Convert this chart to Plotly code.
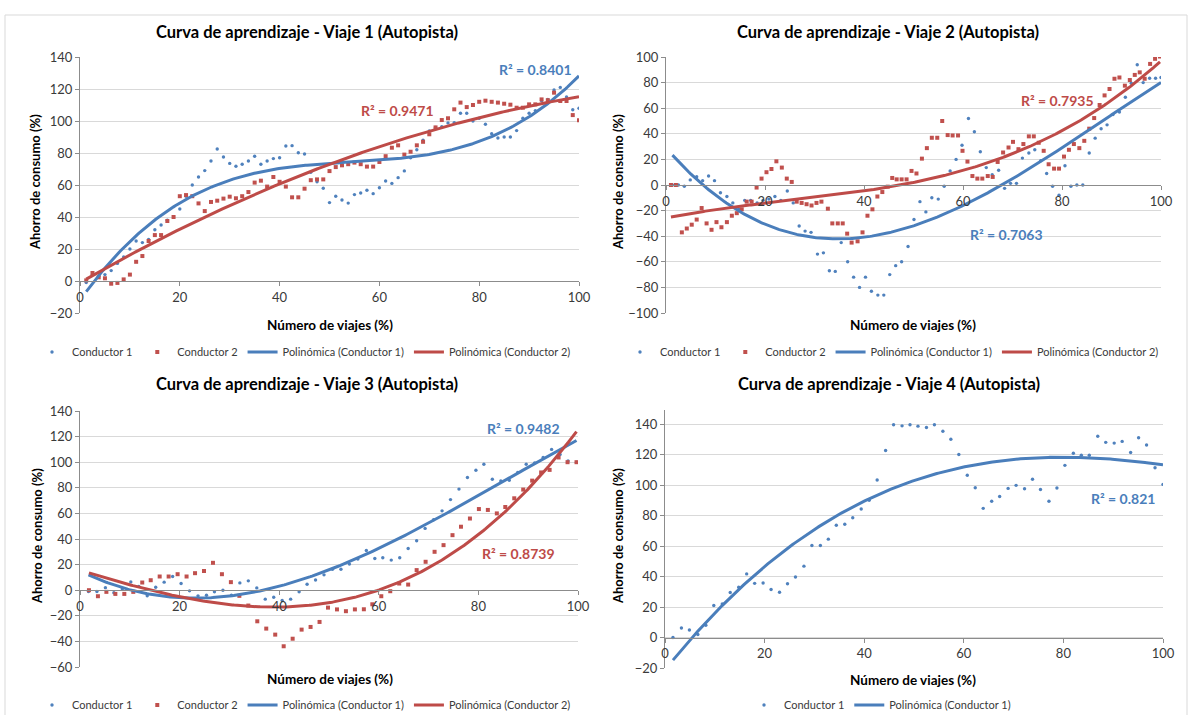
import numpy as np
import plotly.graph_objects as go

# ---------------- data: Viaje 1 ----------------
v1_c1_x = [1.25, 2.5, 3.75, 5.0, 6.25, 7.5, 8.75, 10.0, 11.25, 12.5, 13.75, 15.0, 16.25, 17.5, 18.75, 20.0,
           21.25, 22.5, 23.75, 25.0, 26.25, 27.5, 28.75, 30.0, 31.25, 32.5, 33.75, 35.0, 36.25, 37.5, 38.75,
           40.0, 41.25, 42.5, 43.75, 45.0, 46.25, 47.5, 48.75, 50.0, 51.25, 52.5, 53.75, 55.0, 56.25, 57.5,
           58.75, 60.0, 61.25, 62.5, 63.75, 65.0, 66.25, 67.5, 68.75, 70.0, 71.25, 72.5, 73.75, 75.0, 76.25,
           77.5, 78.75, 80.0, 81.25, 82.5, 83.75, 85.0, 86.25, 87.5, 88.75, 90.0, 91.25, 92.5, 93.75, 95.0,
           96.25, 97.5, 98.75, 100.0]
v1_c1_y = [-1, 4, 3, 4, 6.5, 11, 15, 20, 25, 24, 26, 32, 35, 38, 40, 45,
           53, 60, 65, 69, 75, 82.5, 77.5, 73.5, 71.7, 73, 75, 78, 73, 75, 76.5,
           77, 84.4, 84.6, 80.2, 79.4, 68, 62, 58, 49, 53, 50.6, 48.7, 54, 55, 56.7,
           54.6, 58.3, 62.5, 61, 64.6, 68.8, 77, 82, 88, 93.8, 96, 96.5, 98.8, 99, 104.8,
           104.8, 100, 101.7, 98, 92, 89.4, 90, 90, 94, 101.7, 104.8, 106.5, 112.7, 113.5, 119.4,
           121, 115, 107, 108]
v1_c2_x = v1_c1_x
v1_c2_y = [0.4, 5, 2.3, 1.7, -1.7, -1.2, 1, 4, 12, 15.6, 25, 28.7, 28.7, 37.5, 40, 53,
           53.7, 53, 48.5, 43.7, 49.4, 50.2, 51.5, 52.7, 51.7, 53, 55.6, 61.5, 62.7, 59, 65,
           62, 59, 52.3, 52.3, 57.7, 63, 63.5, 63.5, 68.7, 71.2, 72.3, 73, 74, 73, 71.5,
           71.5, 74.4, 78, 83.3, 84.8, 79, 80.8, 84.8, 87, 91.7, 96, 100.6, 101.7, 107.3, 111.5,
           108.7, 110, 112, 112.7, 112, 111.5, 110.8, 110.2, 108.3, 108.3, 110.4, 110.4, 113.5, 113, 117.7,
           112.5, 112.5, 103.7, 100.4]

# ---------------- data: Viaje 2 ----------------
v2_c1_x = [1.3, 2.5, 3.7, 4.9, 6.2, 7.4, 8.6, 9.8, 11.0, 12.3, 13.5, 14.7, 15.9, 17.1, 18.4, 19.6, 20.8,
           22.0, 23.2, 24.5, 25.7, 26.9, 28.1, 29.3, 30.6, 31.8, 33.0, 34.2, 35.4, 36.7, 37.9, 39.1, 40.3,
           41.5, 42.8, 44.0, 45.2, 46.4, 47.6, 48.9, 50.1, 51.3, 52.5, 53.7, 55.0, 56.2, 57.4, 58.6, 59.8,
           61.1, 62.3, 63.5, 64.7, 65.9, 67.2, 68.4, 69.6, 70.8, 72.0, 73.3, 74.5, 75.7, 76.9, 78.1, 79.4,
           80.6, 81.8, 83.0, 84.2, 85.5, 86.7, 87.9, 89.1, 90.3, 91.6, 92.8, 94.0, 95.2, 96.4, 97.7, 98.9, 100.0]
v2_c1_y = [0, 0, -1, 4, 6.5, 3.4, 7, 3.4, -6, -9, -14, -19, -12, -12, -14, -12, -11,
           -9, -12, -4.7, -14, -32, -36, -37, -54, -53, -67, -67.5, -45, -60, -72, -80, -72,
           -83, -86, -86, -70, -63, -60, -48, -27, -13, -21, -10, -11, -1, 11, 20, 31,
           52, 41.6, 26, 13.6, 8, 11.5, -2.6, 1.3, 1.3, 21, 25, 27.5, 19, 9, -1, -8,
           15, -1, 0, 0, 25, 36.6, 44, 47, 55, 57, 68.5, 79.5, 94, 80, 83.4, 83.4, 84]
v2_c2_x = [1.0, 2.0, 3.2, 4.2, 5.2, 6.2, 7.2, 8.2, 9.2, 10.2, 11.2, 12.3, 13.3, 14.3, 15.3, 16.3, 17.3,
           18.3, 19.3, 20.3, 21.3, 22.3, 23.4, 24.4, 25.4, 26.4, 27.4, 28.4, 29.4, 30.4, 31.4, 32.7, 33.6,
           34.7, 35.7, 36.6, 37.5, 38.7, 39.7, 40.7, 41.7, 42.7, 43.7, 44.8, 45.7, 46.6, 47.6, 48.6, 49.6,
           50.6, 51.7, 52.7, 53.7, 54.8, 55.8, 56.9, 57.9, 59.0, 59.9, 60.9, 61.9, 62.9, 63.9, 65.0, 66.0,
           67.0, 68.1, 69.2, 70.1, 71.2, 72.2, 73.3, 74.3, 75.3, 76.3, 77.3, 78.4, 79.4, 80.4, 81.4, 82.4,
           83.5, 84.5, 85.5, 86.5, 87.6, 88.6, 89.6, 90.6, 91.6, 92.7, 93.7, 94.7, 95.7, 96.7, 97.8, 98.8, 99.8]
v2_c2_y = [0, 0, -37, -34, -31, -27, -18, -30, -35, -29, -33, -29, -24, -22, -19, -13, -13,
           -2, 5, 10, 12.5, 18.5, 13.6, 5, 2.4, -13, -14, -15, -16, -14, -13, -18.5, -30,
           -30, -30, -38, -45, -44, -37, -24, -19, -9, -5.5, -1.3, 5.5, 4.4, 4.4, 4.4, 11,
           9, 20.6, 28.8, 36.9, 36.9, 50, 39, 38.7, 38.7, 26.7, 18.3, 7, 5, 5, 7, 6.3,
           18, 25.4, 29.3, 33.7, 28, 32, 38, 38, 33, 26.7, 16.2, 12.8, 12.8, 22.2, 27.5, 32,
           28.8, 34.5, 44, 52.3, 62.5, 70, 75, 83, 84, 77.6, 82, 86, 88, 83, 94.6, 98.6, 100.4]

# ---------------- data: Viaje 3 ----------------
v3_c1_x = [1.7, 3.4, 5.1, 6.8, 8.5, 10.2, 11.8, 13.5, 15.2, 16.9, 18.6, 20.3, 22.0, 23.7, 25.4, 27.0,
           28.7, 30.4, 32.1, 33.8, 35.5, 37.2, 38.9, 40.6, 42.3, 44.0, 45.6, 47.3, 49.0, 50.7, 52.4, 54.1,
           55.8, 57.5, 59.2, 60.8, 62.5, 64.2, 65.9, 67.6, 69.3, 71.0, 72.7, 74.4, 76.1, 77.8, 79.5, 81.1,
           82.8, 84.5, 86.2, 87.9, 89.6, 91.3, 93.0, 94.7, 96.4, 98.0, 99.7]
v3_c1_y = [-1, -1, 2, -2, 1, 6.5, 3, -4.4, 2.3, 6.3, 10.7, 5.2, -0.5, -4.4, -4, -1.3,
           0, -4, 5.7, 7.3, 1.8, -7, -5.5, -8, -7, -1.3, 4.7, 8, 12, 16.4, 16.4, 20.4,
           24.3, 31, 24.8, 25.3, 23.5, 25.3, 32.6, 38.6, 48.3, 55, 62, 70.8, 79, 88, 93.7, 98.4,
           86.7, 85.4, 85.9, 92, 98.4, 99.5, 103.7, 110, 106, 101, 100]
v3_c2_x = [1.8, 3.6, 5.3, 7.1, 8.9, 10.7, 12.5, 14.2, 16.0, 17.8, 19.6, 21.4, 23.1, 24.9, 26.7, 28.5,
           30.3, 32.0, 33.8, 35.6, 37.4, 39.2, 40.9, 42.7, 44.5, 46.3, 48.1, 49.8, 51.6, 53.4, 55.2, 57.0,
           58.7, 60.5, 62.3, 64.1, 65.9, 67.6, 69.4, 71.2, 73.0, 74.8, 76.5, 78.3, 80.1, 81.9, 83.7, 85.4,
           87.2, 89.0, 90.8, 92.6, 94.3, 96.1, 97.9, 99.7]
v3_c2_y = [0, -4.7, -1.3, -2.9, -2.9, -1.3, 6, 7.8, 10.7, 10.7, 12.5, 10.7, 13.3, 15, 21.4, 12.5,
           6.3, -4.4, -12, -24.3, -30, -34.7, -43.8, -37.9, -30.8, -28.7, -24.8, -13.6, -15, -16.4, -15, -14.9,
           -11, -4.7, -0.8, 5.2, 4.4, 15.7, 22.2, 30, 35.2, 43, 49.6, 56, 63.4, 62.7, 60, 65,
           71.8, 78.6, 85.6, 92, 94, 103.7, 100, 100]

# ---------------- data: Viaje 4 ----------------
v4_c1_x = [1.6, 3.3, 4.9, 6.6, 8.2, 9.8, 11.5, 13.1, 14.8, 16.4, 18.0, 19.7, 21.3, 23.0, 24.6, 26.2,
           27.9, 29.5, 31.2, 32.8, 34.4, 36.1, 37.7, 39.4, 41.0, 42.6, 44.3, 45.9, 47.6, 49.2, 50.8, 52.5,
           54.1, 55.8, 57.4, 59.0, 60.7, 62.3, 63.9, 65.6, 67.2, 68.9, 70.5, 72.2, 73.8, 75.4, 77.1, 78.7,
           80.3, 82.0, 83.6, 85.2, 86.9, 88.5, 90.2, 91.8, 93.5, 95.1, 96.7, 98.4, 100.0]
v4_c1_y = [0, 6.2, 4.9, 2, 8, 21, 22, 29.5, 33, 41.7, 35.5, 35.7, 31.5, 29.7, 35.3, 39.7,
           46.8, 60.3, 60.3, 64.5, 73.6, 74.3, 78.5, 84.3, 90, 103.3, 122.6, 139.5, 138.8, 139.5, 138.6, 137.7,
           139.5, 135.3, 130, 120, 106.4, 98.2, 84.7, 89.4, 92.5, 97.8, 99.8, 97.6, 103.8, 97.1, 89.4, 98,
           112.9, 120.8, 119.5, 119.5, 132, 128, 127.5, 128.6, 121.3, 131, 126.2, 111.3, 100.4]

# coefficient of determination printed next to each trendline
r2_labels = {
    ("v1", 1): "R² = 0.8401", ("v1", 2): "R² = 0.9471",
    ("v2", 1): "R² = 0.7063", ("v2", 2): "R² = 0.7935",
    ("v3", 1): "R² = 0.9482", ("v3", 2): "R² = 0.8739",
    ("v4", 1): "R² = 0.821",
}

titles = ["Curva de aprendizaje - Viaje 1 (Autopista)", "Curva de aprendizaje - Viaje 2 (Autopista)",
          "Curva de aprendizaje - Viaje 3 (Autopista)", "Curva de aprendizaje - Viaje 4 (Autopista)"]
x_title = "Número de viajes (%)"
y_title = "Ahorro de consumo (%)"

# ---------------- styling ----------------
W, H = 1192, 715
FONT = "Lato"
BLUE_PT, RED_PT = "#4f81bd", "#c0504d"
BLUE_LN, RED_LN = "#4a7ebb", "#be4b48"
GRID, AXIS, TXT = "#d9d9d9", "#8c8c8c", "#3a3a3a"


def px_x(p):
    """pixel column -> paper fraction"""
    return p / W


def px_y(p):
    """pixel row -> paper fraction"""
    return 1 - p / H


# plot areas in pixels: (left, right, top, bottom) and y ranges
panels = [
    dict(name="v1", box=(80, 579, 57, 313), yr=[-20, 140], xt=330, tcx=307, tty=32, leg=(304, 352), ytx=35),
    dict(name="v2", box=(666, 1161, 57, 313), yr=[-100, 100], xt=913, tcx=888, tty=32, leg=(892, 352), ytx=618),
    dict(name="v3", box=(80, 578, 411, 667), yr=[-60, 140], xt=330, tcx=307, tty=384, leg=(304, 705), ytx=37),
    dict(name="v4", box=(665, 1163, 410, 668), yr=[-20, 149.2], xt=913, tcx=889, tty=384, leg=(880, 705), ytx=618),
]

series = {
    "v1": [(v1_c1_x, v1_c1_y, 3), (v1_c2_x, v1_c2_y, 2)],
    "v2": [(v2_c1_x, v2_c1_y, 3), (v2_c2_x, v2_c2_y, 3)],
    "v3": [(v3_c1_x, v3_c1_y, 3), (v3_c2_x, v3_c2_y, 3)],
    "v4": [(v4_c1_x, v4_c1_y, 3)],
}

# label anchor positions (data units) for the R² texts
r2_pos = {
    ("v1", 1): (91.3, 132.2), ("v1", 2): (63.6, 106.3),
    ("v2", 1): (68.7, -38.3), ("v2", 2): (79.0, 66.4),
    ("v3", 1): (89.0, 126.6), ("v3", 2): (88.0, 28.9),
    ("v4", 1): (92.0, 91.1),
}

fig = go.Figure()
annotations = []
layout_axes = {}

for k, p in enumerate(panels):
    n = k + 1
    sfx = "" if n == 1 else str(n)
    xa, ya = f"x{sfx}", f"y{sfx}"
    leg = "legend" if n == 1 else f"legend{n}"
    l, r, t, b = p["box"]
    ydom = [px_y(b), px_y(t)]
    y0, y1 = p["yr"]
    cross = ydom[0] + (0 - y0) / (y1 - y0) * (ydom[1] - ydom[0])

    layout_axes[f"xaxis{sfx}"] = dict(
        domain=[px_x(l), px_x(r)], range=[0, 100], tick0=0, dtick=20, anchor="free", position=cross,
        showgrid=False, zeroline=False, showline=True, linecolor=AXIS, linewidth=1,
        ticks="outside", ticklen=4, tickcolor=AXIS, automargin=False,
        tickfont=dict(family=FONT, size=13, color=TXT), fixedrange=True)
    layout_axes[f"yaxis{sfx}"] = dict(
        domain=ydom, range=[y0, y1], tick0=y0, dtick=20, anchor=xa,
        showgrid=True, gridcolor=GRID, gridwidth=1, zeroline=False, automargin=False,
        showline=True, linecolor=AXIS, linewidth=1, ticks="outside", ticklen=4, tickcolor=AXIS,
        tickfont=dict(family=FONT, size=13, color=TXT), fixedrange=True)

    sers = series[p["name"]]
    # scatter points
    for j, (sx, sy, _) in enumerate(sers):
        fig.add_trace(go.Scatter(
            x=sx, y=sy, mode="markers", name=f"Conductor {j + 1}", xaxis=xa, yaxis=ya, legend=leg,
            marker=dict(symbol="circle" if j == 0 else "square", size=3.4 if j == 0 else 4,
                        color=BLUE_PT if j == 0 else RED_PT, line=dict(width=0)),
            hoverinfo="skip"))
    # polynomial trendlines fitted to each driver's points
    for j, (sx, sy, deg) in enumerate(sers):
        coef = np.polyfit(sx, sy, deg)
        xs = np.linspace(min(sx), max(sx), 300)
        fig.add_trace(go.Scatter(
            x=xs, y=np.polyval(coef, xs), mode="lines", name=f"Polinómica (Conductor {j + 1})",
            xaxis=xa, yaxis=ya, legend=leg,
            line=dict(color=BLUE_LN if j == 0 else RED_LN, width=3), hoverinfo="skip"))
        lx, ly = r2_pos[(p["name"], j + 1)]
        annotations.append(dict(
            x=lx, y=ly, xref=xa, yref=ya, text=f"<b>{r2_labels[(p['name'], j + 1)]}</b>", showarrow=False,
            font=dict(family=FONT, size=14, color=BLUE_LN if j == 0 else RED_LN),
            xanchor="center", yanchor="middle"))

    # chart title, axis titles
    annotations.append(dict(x=px_x(p["tcx"]), y=px_y(p["tty"]), xref="paper", yref="paper",
                            text=f"<b>{titles[k]}</b>", showarrow=False,
                            font=dict(family=FONT, size=16.5, color="#000000"),
                            xanchor="center", yanchor="middle"))
    annotations.append(dict(x=px_x(p["xt"]), y=px_y(b + 12), xref="paper", yref="paper",
                            text=f"<b>{x_title}</b>", showarrow=False,
                            font=dict(family=FONT, size=13.5, color="#000000"),
                            xanchor="center", yanchor="middle"))
    annotations.append(dict(x=px_x(p["ytx"]), y=px_y((t + b) / 2 - 3), xref="paper", yref="paper",
                            text=f"<b>{y_title}</b>", showarrow=False, textangle=-90,
                            font=dict(family=FONT, size=13, color="#000000"),
                            xanchor="center", yanchor="middle"))

    lx, ly = p["leg"]
    layout_axes[leg] = dict(orientation="h", x=px_x(lx), y=px_y(ly), xanchor="center", yanchor="middle",
                            font=dict(family=FONT, size=11, color=TXT), itemwidth=30,
                            bgcolor="rgba(0,0,0,0)", tracegroupgap=0, itemclick=False, itemdoubleclick=False)

fig.update_layout(
    width=W, height=H, autosize=False,
    # fixed margins: legends near the edges must not shrink the plotting area
    margin=dict(l=0, r=0, t=0, b=0, pad=0, autoexpand=False),
    paper_bgcolor="white", plot_bgcolor="white",
    showlegend=True,
    annotations=annotations,
    # thin outer frame of the chart sheet
    shapes=[dict(type="rect", xref="paper", yref="paper", x0=px_x(5), y0=px_y(716), x1=px_x(1187), y1=px_y(15),
                 line=dict(color="#d9d9d9", width=1), layer="below")],
    **layout_axes,
)

fig.write_html("out.html",
               post_script="document.body.style.margin='0';document.body.style.overflow='hidden';")
